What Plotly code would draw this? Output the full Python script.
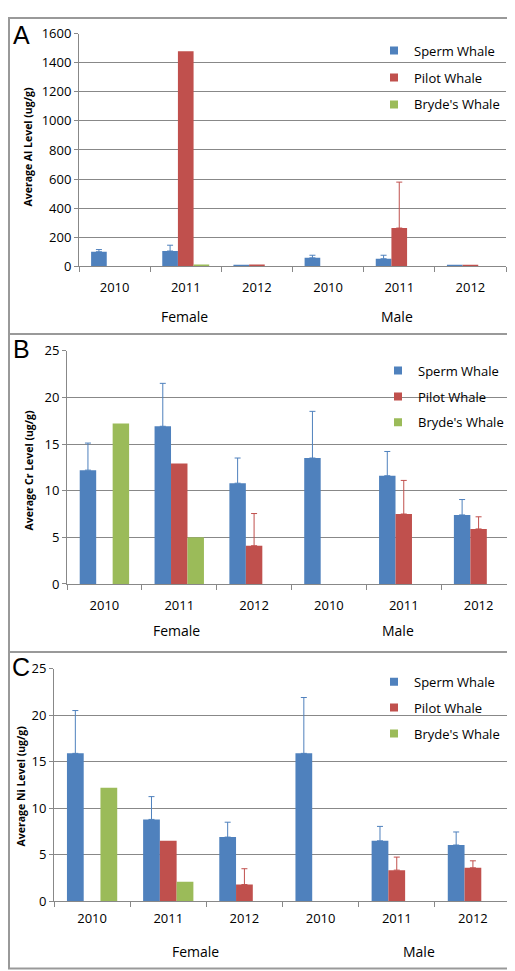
import numpy as np
import plotly.graph_objects as go

W, H = 515, 971

years = ["2010", "2011", "2012", "2010", "2011", "2012"]
sexes = ["Female", "Male"]
species = ["Sperm Whale", "Pilot Whale", "Bryde's Whale"]
colors = ["#4F81BD", "#C0504D", "#9BBB59"]

# Panel A: Al
al_sperm = [100, 105, 6, 58, 52, 5]
al_sperm_err = [15, 40, None, 18, 24, None]
al_pilot = [None, 1480, 12, None, 263, 5]
al_pilot_err = [None, None, None, None, 316, None]
al_bryde = [None, 13, None, None, None, None]
al_bryde_err = [None, None, None, None, None, None]

# Panel B: Cr
cr_sperm = [12.2, 16.9, 10.8, 13.5, 11.6, 7.4]
cr_sperm_err = [2.9, 4.6, 2.7, 5.0, 2.6, 1.65]
cr_pilot = [None, 12.9, 4.1, None, 7.5, 5.9]
cr_pilot_err = [None, None, 3.45, None, 3.6, 1.3]
cr_bryde = [17.2, 5.0, None, None, None, None]
cr_bryde_err = [None, None, None, None, None, None]

# Panel C: Ni
ni_sperm = [15.9, 8.8, 6.9, 15.9, 6.5, 6.05]
ni_sperm_err = [4.6, 2.45, 1.6, 6.0, 1.55, 1.4]
ni_pilot = [None, 6.5, 1.8, None, 3.35, 3.6]
ni_pilot_err = [None, None, 1.7, None, 1.4, 0.75]
ni_bryde = [12.2, 2.1, None, None, None, None]
ni_bryde_err = [None, None, None, None, None, None]

panel_letters = ["A", "B", "C"]
y_titles = ["Average Al Level (ug/g)", "Average Cr Level (ug/g)", "Average Ni Level (ug/g)"]
y_ranges = [[0, 1600], [0, 25], [0, 25]]
y_dticks = [200, 5, 5]

panels = [
    [(al_sperm, al_sperm_err), (al_pilot, al_pilot_err), (al_bryde, al_bryde_err)],
    [(cr_sperm, cr_sperm_err), (cr_pilot, cr_pilot_err), (cr_bryde, cr_bryde_err)],
    [(ni_sperm, ni_sperm_err), (ni_pilot, ni_pilot_err), (ni_bryde, ni_bryde_err)],
]

# layout geometry in pixels
plot_px = [  # x_left, x_right, y_top, y_bottom
    (71, 498, 17, 254),
    (59, 508, 340, 577.7),
    (46, 503, 664, 901),
]
ytitle_px = [(20, 133), (21, 462), (13, 784)]
letter_px = [(13, 18), (13, 338), (13, 662)]
sex_px = [[(176, 305), (389, 305)], [(168, 625), (390, 625)], [(187, 952), (411, 952)]]
legend_px = [(366, 19), (370, 345), (366, 662)]
legend_gap = [7, 6, 6]
label_standoff = [9, 9, 5]

def px2x(p):
    return p / W

def py2y(p):
    return 1 - p / H

FONT = "Open Sans"
GRID = "#888888"

positions = list(range(len(years)))

fig = go.Figure()
layout = dict(
    width=W, height=H,
    margin=dict(l=0, r=0, t=0, b=0),
    paper_bgcolor="white", plot_bgcolor="white",
    barmode="group", bargap=0.34, bargroupgap=0,
    font=dict(family=FONT, size=13, color="#000000"),
    showlegend=True,
    annotations=[], shapes=[],
)

for i, series in enumerate(panels):
    n = "" if i == 0 else str(i + 1)
    xa, ya = "x" + n, "y" + n
    leg = "legend" + n
    for j, (vals, errs) in enumerate(series):
        plus = np.array([np.nan if e is None else e for e in errs], dtype=float)
        minus = np.array([np.nan if e is None else 0.0 for e in errs], dtype=float)
        fig.add_trace(go.Bar(
            x=positions, y=vals, xaxis=xa, yaxis=ya,
            marker=dict(color=colors[j], line=dict(width=0)),
            error_y=dict(type="data", array=plus, arrayminus=minus,
                         symmetric=False, color=colors[j], thickness=1, width=3),
            name=species[j], showlegend=False, offsetgroup=str(j),
        ))
        fig.add_trace(go.Scatter(
            x=[None], y=[None], xaxis=xa, yaxis=ya, mode="markers",
            marker=dict(symbol="square", size=8, color=colors[j]),
            name=species[j], legend=leg, legendgroup=f"{i}-{j}", showlegend=True,
        ))
    xl, xr, yt, yb = plot_px[i]
    layout["xaxis" + n] = dict(
        domain=[px2x(xl), px2x(xr)], anchor=ya, range=[-0.5, len(years) - 0.5],
        tickmode="array", tickvals=positions, ticktext=years,
        ticks="outside", ticklen=label_standoff[i], tickcolor="rgba(0,0,0,0)",
        showline=True, linecolor=GRID, linewidth=1, showgrid=False, zeroline=False,
        tickfont=dict(family=FONT, size=13),
        minor=dict(tickmode="array", tickvals=[p - 0.5 for p in positions] + [len(years) - 0.5],
                   ticks="outside", ticklen=5, tickcolor=GRID, tickwidth=1, showgrid=False),
        fixedrange=True,
    )
    layout["yaxis" + n] = dict(
        domain=[py2y(yb), py2y(yt)], anchor=xa, range=y_ranges[i], dtick=y_dticks[i],
        showline=True, linecolor=GRID, linewidth=1,
        showgrid=True, gridcolor=GRID, gridwidth=1, zeroline=False,
        ticks="outside", ticklen=4, tickcolor=GRID,
        tickfont=dict(family=FONT, size=13), fixedrange=True,
    )
    lx, ly = legend_px[i]
    layout[leg] = dict(
        x=px2x(lx), y=py2y(ly), xanchor="left", yanchor="top", xref="paper", yref="paper",
        bgcolor="rgba(0,0,0,0)", font=dict(family=FONT, size=13),
        tracegroupgap=legend_gap[i], traceorder="grouped", itemclick=False,
    )
    tx, ty = ytitle_px[i]
    layout["annotations"].append(dict(
        text=f"<b>{y_titles[i]}</b>", x=px2x(tx), y=py2y(ty), xref="paper", yref="paper",
        textangle=-90, showarrow=False, font=dict(family=FONT, size=10.5),
        xanchor="center", yanchor="middle"))
    lx2, ly2 = letter_px[i]
    layout["annotations"].append(dict(
        text=panel_letters[i], x=px2x(lx2), y=py2y(ly2), xref="paper", yref="paper",
        showarrow=False, font=dict(family="Liberation Sans", size=25),
        xanchor="center", yanchor="middle"))
    for k, (sx, sy) in enumerate(sex_px[i]):
        layout["annotations"].append(dict(
            text=sexes[k], x=px2x(sx), y=py2y(sy), xref="paper", yref="paper",
            showarrow=False, font=dict(family=FONT, size=14),
            xanchor="center", yanchor="middle"))

# panel borders
BORDER = "#999999"
layout["shapes"].append(dict(type="rect", xref="paper", yref="paper",
                             x0=px2x(1), x1=px2x(513), y0=py2y(969.5), y1=py2y(1),
                             line=dict(color=BORDER, width=2)))
for yy in (323, 647):
    layout["shapes"].append(dict(type="line", xref="paper", yref="paper",
                                 x0=px2x(1), x1=px2x(513), y0=py2y(yy), y1=py2y(yy),
                                 line=dict(color=BORDER, width=2)))

fig.update_layout(**layout)
fig.write_html("out.html")
